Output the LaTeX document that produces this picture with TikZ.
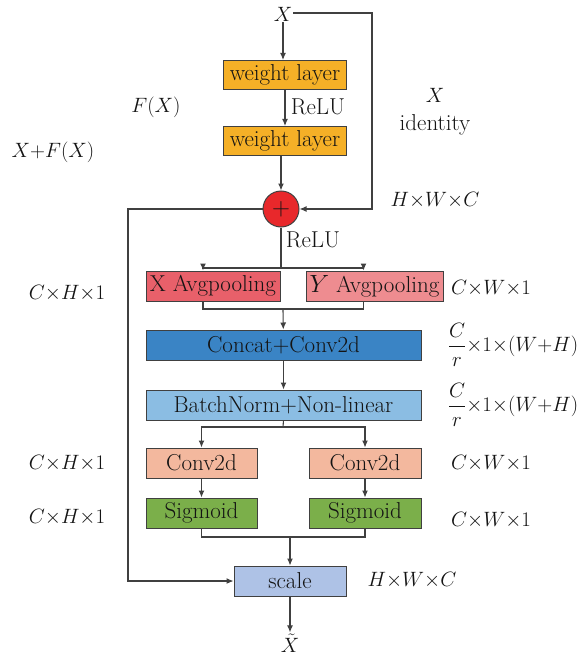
\documentclass[tikz,border=0pt]{standalone}
\usepackage{amsmath}
\usetikzlibrary{arrows.meta,calc}
\definecolor{ln}{HTML}{404040}
\definecolor{cw}{HTML}{F5B027}
\definecolor{cred}{HTML}{E8282B}
\definecolor{ca1}{HTML}{E8606A}
\definecolor{ca2}{HTML}{EE8C90}
\definecolor{ccat}{HTML}{3A84C5}
\definecolor{cbn}{HTML}{8BBDE3}
\definecolor{cconv}{HTML}{F3B89E}
\definecolor{csig}{HTML}{7BAF4A}
\definecolor{csc}{HTML}{AEC2E6}
\begin{document}
\begin{tikzpicture}[x=1pt,y=-1pt,
  every node/.style={font=\fontsize{23}{26}\selectfont, text=black!92},
  box/.style={draw=ln, line width=1pt, minimum height=30pt, inner sep=0pt},
  arr/.style={draw=ln, line width=1.1pt, -{Latex[length=7pt,width=6pt]}},
  ln/.style={draw=ln, line width=1.1pt},
  lab/.style={inner sep=1pt},
  mlab/.style={inner sep=1pt, font=\fontsize{19.5}{22}\selectfont}]
\useasboundingbox (0,0) rectangle (585,655);
\node[mlab, font=\fontsize{22}{24}\selectfont] (X) at (283,14) {$X$};
\node[box, fill=cw, minimum width=123pt, minimum height=29pt] (w1) at (285,75) {weight layer};
\node[box, fill=cw, minimum width=123pt, minimum height=29pt] (w2) at (285,141) {weight layer};
\node[circle, draw=ln, line width=1pt, fill=cred, minimum size=36pt, inner sep=0pt, font=\fontsize{28}{28}\selectfont] (c) at (281,209) {$+$};
\node[lab] (r1) at (318,107) {ReLU};
\node[lab] (r2) at (313,240) {ReLU};
\node[mlab, font=\fontsize{22}{24}\selectfont] (fx) at (156,107) {$F(X)$};
\node[mlab, font=\fontsize{20.5}{23}\selectfont] (xfx) at (53,152) {$X{+}F(X)$};
\node[mlab, font=\fontsize{21}{23}\selectfont] (xi) at (435,95) {$X$};
\node[lab] (id) at (435,125) {identity};
\node[mlab] (hwc1) at (435,200) {$H{\times}W{\times}C$};
\node[box, fill=ca1, minimum width=134pt] (a1) at (213,286) {X Avgpooling};
\node[box, fill=ca2, minimum width=137pt] (a2) at (374.5,286) {$Y$ Avgpooling};
\node[box, fill=ccat, minimum width=275pt] (cat) at (283.5,345) {Concat+Conv2d};
\node[box, fill=cbn, minimum width=275pt] (bn) at (283.5,405) {BatchNorm+Non-linear};
\node[box, fill=cconv, minimum width=111pt] (cl) at (201.5,463) {Conv2d};
\node[box, fill=cconv, minimum width=112pt] (cr) at (365,463) {Conv2d};
\node[box, fill=csig, minimum width=111pt] (sl) at (201.5,513) {Sigmoid};
\node[box, fill=csig, minimum width=112pt] (sr) at (365,513) {Sigmoid};
\node[box, fill=csc, minimum width=112pt] (sc) at (290,581) {scale};
\node[mlab, font=\fontsize{22}{24}\selectfont] (xt) at (290,643) {$\tilde{X}$};
\node[mlab] (l1) at (67,293) {$C{\times}H{\times}1$};
\node[mlab] (r1b) at (491,288) {$C{\times}W{\times}1$};
\node[mlab] (f1) at (513,345) {$\dfrac{C}{r}{\times}1{\times}(W{+}H)$};
\node[mlab] (f2) at (513,405) {$\dfrac{C}{r}{\times}1{\times}(W{+}H)$};
\node[mlab] (l2) at (67,463) {$C{\times}H{\times}1$};
\node[mlab] (r2b) at (491,463) {$C{\times}W{\times}1$};
\node[mlab] (l3) at (67,517) {$C{\times}H{\times}1$};
\node[mlab] (r3b) at (491,520) {$C{\times}W{\times}1$};
\node[mlab] (hwc2) at (412,580) {$H{\times}W{\times}C$};
\coordinate (tr) at (372,13);
\coordinate (bl) at (128,209);
\coordinate (j1) at (281,268);
\coordinate (j2) at (283,309);
\coordinate (j3) at (283,427);
\coordinate (j4) at (290,537);
\draw[arr] (X) -- (X |- w1.north);
\draw[arr] (w1) -- (w2);
\draw[arr] (w2.south -| c) -- (c);
\draw[arr] (X.east |- tr) -- (tr) |- (c.east);
\draw[arr] (c.west) -- (bl) |- (sc.west);
\draw[ln] (c.south) -- (j1);
\draw[arr] (j1) -| ([xshift=-10pt]a1.north);
\draw[arr] (j1) -| ([xshift=-11pt]a2.north);
\draw[ln] ([xshift=-10pt]a1.south) |- (j2) -| ([xshift=-11pt]a2.south);
\draw[arr] (j2) -- (cat);
\draw[arr] (cat) -- (bn);
\draw[ln] (bn.south) -- (j3);
\draw[arr] (j3) -| (cl.north);
\draw[arr] (j3) -| (cr.north);
\draw[arr] (cl) -- (sl);
\draw[arr] (cr) -- (sr);
\draw[ln] (sl.south) |- (j4) -| (sr.south);
\draw[arr] (j4) -- (sc);
\draw[arr] (sc) -- (xt);
\end{tikzpicture}
\end{document}
